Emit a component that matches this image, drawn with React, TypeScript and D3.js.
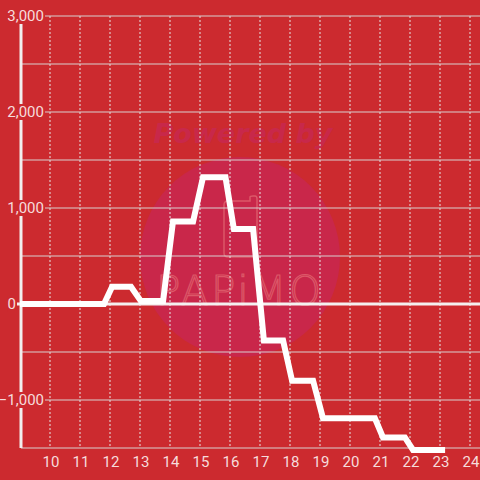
import React from "react";
import * as d3 from "d3";

const xTicks = [10, 11, 12, 13, 14, 15, 16, 17, 18, 19, 20, 21, 22, 23, 24];
const yMajor = [3000, 2000, 1000, 0, -1000];
const yMinor = [2500, 1500, 500, -500, -1500];
const seriesX = [9, 11.8, 12.07, 12.7, 13.03, 13.77, 14.1, 14.77, 15.1, 15.85, 16.13, 16.77, 17.13, 17.77, 18.07, 18.77, 19.1, 20.83, 21.1, 21.83, 22.1, 23.17];
const seriesY = [0, 0, 180, 180, 30, 30, 860, 860, 1320, 1320, 780, 780, -380, -380, -800, -800, -1190, -1190, -1390, -1390, -1520, -1520];

const W = 480, H = 480;
const BG = "#cc2a2f";
const TXT = "#f6dcdc";

export default function App() {
  const x = d3.scaleLinear().domain([10, 24]).range([50, 470]);
  const y = d3.scaleLinear().domain([3000, -1500]).range([16, 448]);
  const fmt = d3.format(",");
  const pts: [number, number][] = seriesX.map((v, i) => [v, seriesY[i]]);
  const line = d3.line<[number, number]>().x(d => x(d[0])).y(d => y(d[1]));
  const left = x(9) + 1;
  return (
    <svg width={W} height={H} style={{ position: "absolute", left: 0, top: 0, display: "block" }}>
      <rect x={0} y={0} width={W} height={H} fill={BG} />
      {/* watermark */}
      <circle cx={240} cy={257} r={100} fill="#c9274a" />
      <text x={243} y={143} textAnchor="middle" fontFamily="DejaVu Sans" fontWeight="bold" fontStyle="italic" fontSize={27} fill="#c8284a">Powered by</text>
      <path d="M224,205 Q224,201 228,201 L250,201 L250,197 Q250,196 253,196 L255,196 Q257,196 257,199 L257,253 Q257,257 253,257 L228,257 Q224,257 224,253 Z" fill="none" stroke="#dc5868" strokeWidth={1.5} />
      <text x={240} y={305} textAnchor="middle" fontFamily="DejaVu Sans" fontWeight={300} fontSize={40} letterSpacing={3} fill="none" stroke="#dc5868" strokeWidth={1.2}>PAPiMO</text>
      {/* vertical dotted gridlines */}
      {xTicks.map(t => (
        <line key={"vx" + t} x1={x(t)} x2={x(t)} y1={16} y2={448} stroke="#e6e6e6" strokeWidth={1} strokeDasharray="2,2" />
      ))}
      {/* horizontal gridlines */}
      {[...yMajor, ...yMinor].filter(t => t !== 0).map(t => (
        <line key={"hy" + t} x1={left} x2={W} y1={y(t)} y2={y(t)} stroke="#d8d0d0" strokeWidth={1} />
      ))}
      {/* y axis line */}
      <line x1={left} x2={left} y1={16} y2={448} stroke="#f2eeee" strokeWidth={3} />
      {/* zero line */}
      <line x1={17} x2={W} y1={y(0)} y2={y(0)} stroke="#f4f0f0" strokeWidth={3} />
      {/* data line */}
      <path d={line(pts) || ""} fill="none" stroke="#ffffff" strokeWidth={6} strokeLinejoin="miter" />
      {/* y labels with background */}
      {yMajor.map(t => {
        const s = fmt(t);
        const w = s.length * 7.8 + 2;
        const right = t === 0 ? 17 : 45;
        return (
          <g key={"yl" + t}>
            <rect x={right - w} y={y(t) - 8} width={w} height={16} fill={BG} />
            <text x={right - 1} y={y(t)} dy="0.36em" textAnchor="end" fontFamily="Roboto" fontSize={15} fill={TXT}>{s}</text>
          </g>
        );
      })}
      {/* x labels */}
      {xTicks.map(t => (
        <text key={"xl" + t} x={x(t) + 1} y={467} textAnchor="middle" fontFamily="Roboto" fontSize={15} fill={TXT}>{t}</text>
      ))}
    </svg>
  );
}
